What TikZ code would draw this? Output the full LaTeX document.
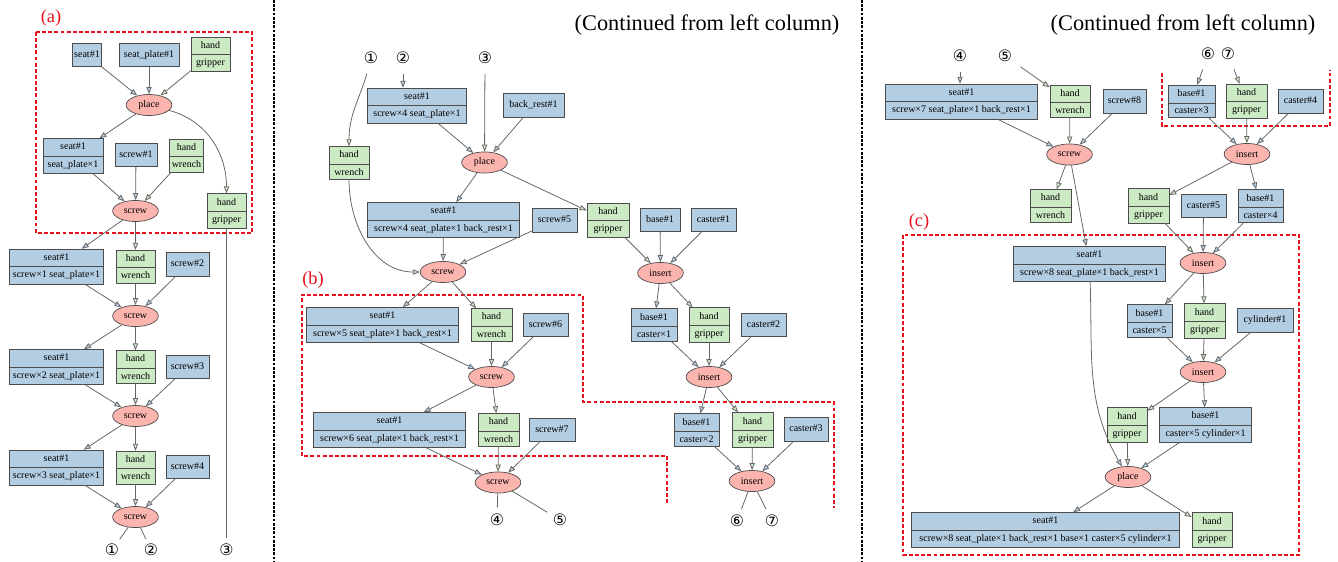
\documentclass[tikz,border=0pt]{standalone}
\usepackage{fontspec}
\setmainfont{Liberation Serif}
\newfontfamily\circfont{DejaVu Sans}
\usetikzlibrary{shapes.multipart,shapes.geometric,arrows.meta}

\definecolor{bluef}{HTML}{B3CDE3}
\definecolor{greenf}{HTML}{CCEBC5}
\definecolor{redf}{HTML}{FBB4AE}
\definecolor{zonered}{HTML}{E8101A}
\newcommand{\boxfont}{\fontsize{5.7}{6.5}\selectfont}

\tikzset{
  part/.style={draw=black!70, fill=bluef, font=\boxfont, inner xsep=1pt,
    text height=4.1pt, text depth=1.3pt},
  obj/.style={part, inner ysep=4pt},
  rec/.style={part, rectangle split, rectangle split parts=2, inner ysep=2.1pt},
  tool/.style={rec, fill=greenf},
  wd/.style={minimum width=#1*0.567pt},
  act/.style={ellipse, draw=black!70, fill=redf, font=\boxfont,
    minimum width=26pt, minimum height=12pt, inner sep=0pt},
  lnk/.style={draw=black!60, line width=0.45pt},
  ab/.style={lnk, -{Triangle[length=4pt, width=3pt, fill=bluef]}},
  ag/.style={lnk, -{Triangle[length=4pt, width=3pt, fill=greenf]}},
  num/.style={font=\circfont\fontsize{9}{9}\selectfont, inner sep=0.5pt},
  zone/.style={draw=zonered, line width=0.7pt, dash pattern=on 2.2pt off 1.3pt},
  tag/.style={text=zonered, font=\fontsize{10.5}{11}\selectfont, inner sep=0pt},
  sep/.style={draw=black, line width=0.6pt, dash pattern=on 1.6pt off 0.8pt},
}

\begin{document}
\begin{tikzpicture}[x=0.02cm, y=0.02cm]
  \useasboundingbox (0,0) rectangle (1338,-561);

  % column dividers and titles
  \draw[sep] (274,0) -- (274,-561);
  \draw[sep] (862,0) -- (862,-561);
  \node[font=\fontsize{12.7}{14}\selectfont] (title1) at (707,-25) {(Continued from left column)};
  \node[font=\fontsize{12.7}{14}\selectfont] (title2) at (1183,-25) {(Continued from left column)};

  % ---------- left column ----------
  \node[tag] (tag-a) at (51,-18) {(a)};
  \draw[zone] (36,-32) rectangle (252,-233);

  \node[obj, wd=28] (a-seat) at (87,-55) {seat\#1};
  \node[obj, wd=60] (a-plate) at (149,-55) {seat\_plate\#1};
  \node[tool, wd=39] (a-grip) at (210.5,-54.5) {hand\nodepart{two}gripper};
  \node[act] (a-place) at (149,-105) {place};
  \node[rec, wd=60] (a-s0) at (73,-156) {seat\#1\nodepart{two}seat\_plate×1};
  \node[obj, wd=42] (a-bolt1) at (136,-155) {screw\#1};
  \node[tool, wd=34] (a-wr1) at (186.5,-155.5) {hand\nodepart{two}wrench};
  \node[act] (a-sc1) at (135.5,-211) {screw};
  \node[tool, wd=39] (a-grip2) at (226.5,-211) {hand\nodepart{two}gripper};

  \node[rec, wd=95] (a-s1) at (56.5,-266.5) {seat\#1\nodepart{two}screw×1 seat\_plate×1};
  \node[tool, wd=39] (a-wr2) at (135.5,-266.5) {hand\nodepart{two}wrench};
  \node[obj, wd=43] (a-bolt2) at (187.5,-264.5) {screw\#2};
  \node[act] (a-sc2) at (135.5,-316) {screw};
  \node[rec, wd=95] (a-s2) at (56.5,-367) {seat\#1\nodepart{two}screw×2 seat\_plate×1};
  \node[tool, wd=39] (a-wr3) at (135.5,-367) {hand\nodepart{two}wrench};
  \node[obj, wd=43] (a-bolt3) at (187.5,-367) {screw\#3};
  \node[act] (a-sc3) at (135.5,-416) {screw};
  \node[rec, wd=95] (a-s3) at (56.5,-467.5) {seat\#1\nodepart{two}screw×3 seat\_plate×1};
  \node[tool, wd=39] (a-wr4) at (135.5,-467.5) {hand\nodepart{two}wrench};
  \node[obj, wd=43] (a-bolt4) at (187.5,-467) {screw\#4};
  \node[act] (a-sc4) at (135.5,-517) {screw};

  \node[num] (a-n1) at (112,-550) {①};
  \node[num] (a-n2) at (151,-550) {②};
  \node[num] (a-n3) at (226.5,-550) {③};

  \draw[ab] (a-seat) -- (a-place);
  \draw[ab] (a-plate) -- (a-place);
  \draw[ag] (a-grip) -- (a-place);
  \draw[ab] (a-place) -- (a-s0);
  \draw[ag] (a-place) to[out=-15, in=90] (a-grip2);
  \draw[ab] (a-s0) -- (a-sc1);
  \draw[ab] (a-bolt1) -- (a-sc1);
  \draw[ag] (a-wr1) -- (a-sc1);
  \draw[ab] (a-sc1) -- (a-s1);
  \draw[ag] (a-sc1) -- (a-wr2);
  \draw[ab] (a-s1) -- (a-sc2);
  \draw[ag] (a-wr2) -- (a-sc2);
  \draw[ab] (a-bolt2) -- (a-sc2);
  \draw[ab] (a-sc2) -- (a-s2);
  \draw[ag] (a-sc2) -- (a-wr3);
  \draw[ab] (a-s2) -- (a-sc3);
  \draw[ag] (a-wr3) -- (a-sc3);
  \draw[ab] (a-bolt3) -- (a-sc3);
  \draw[ab] (a-sc3) -- (a-s3);
  \draw[ag] (a-sc3) -- (a-wr4);
  \draw[ab] (a-s3) -- (a-sc4);
  \draw[ag] (a-wr4) -- (a-sc4);
  \draw[ab] (a-bolt4) -- (a-sc4);
  \draw[lnk, shorten >=2.5pt] (a-sc4) -- (a-n1);
  \draw[lnk, shorten >=2.5pt] (a-sc4) -- (a-n2);
  \draw[lnk, shorten >=3pt] (a-grip2) -- (a-n3);

  % ---------- middle column ----------
  \node[num] (m-n1) at (371,-58) {①};
  \node[num] (m-n2) at (403,-58) {②};
  \node[num] (m-n3) at (485,-58) {③};

  \node[rec, wd=100] (m-seat) at (417,-105.5) {seat\#1\nodepart{two}screw×4 seat\_plate×1};
  \node[obj, wd=61] (m-back) at (533.5,-105.5) {back\_rest\#1};
  \node[tool, wd=40] (m-wr) at (349,-163) {hand\nodepart{two}wrench};
  \node[act] (m-place) at (484.5,-162.5) {place};
  \node[rec, wd=153] (m-seat2) at (443.5,-220) {seat\#1\nodepart{two}screw×4 seat\_plate×1 back\_rest×1};
  \node[obj, wd=45] (m-bolt5) at (554.5,-220.5) {screw\#5};
  \node[tool, wd=42] (m-grip) at (608,-220.5) {hand\nodepart{two}gripper};
  \node[obj, wd=40] (m-base) at (660,-220) {base\#1};
  \node[obj, wd=45] (m-caster1) at (713.5,-220) {caster\#1};
  \node[act] (m-sc1) at (443,-272) {screw};
  \node[act] (m-in1) at (660.5,-273) {insert};

  \node[tag] (tag-b) at (313,-280) {(b)};
  \draw[zone] (667,-503) -- (667,-456) -- (302,-456) -- (302,-295) -- (583,-295)
    -- (583,-402) -- (834,-402) -- (834,-508);

  \node[rec, wd=153] (m-seat5) at (382.5,-325) {seat\#1\nodepart{two}screw×5 seat\_plate×1 back\_rest×1};
  \node[tool, wd=41] (m-wr5) at (491.5,-325) {hand\nodepart{two}wrench};
  \node[obj, wd=45] (m-bolt6) at (545.5,-325) {screw\#6};
  \node[act] (m-sc2) at (491.5,-377) {screw};
  \node[rec, wd=153] (m-seat6) at (389.5,-430) {seat\#1\nodepart{two}screw×6 seat\_plate×1 back\_rest×1};
  \node[tool, wd=41] (m-wr6) at (498.5,-430) {hand\nodepart{two}wrench};
  \node[obj, wd=46] (m-bolt7) at (552,-430) {screw\#7};
  \node[act] (m-sc3) at (498,-482.5) {screw};
  \node[num] (m-n4) at (497,-520) {④};
  \node[num] (m-n5) at (560,-520) {⑤};

  \node[rec, wd=46] (m-b1) at (654,-325) {base\#1\nodepart{two}caster×1};
  \node[tool, wd=40] (m-grip1) at (709,-325) {hand\nodepart{two}gripper};
  \node[obj, wd=45] (m-caster2) at (763.5,-325) {caster\#2};
  \node[act] (m-in2) at (709,-377) {insert};
  \node[rec, wd=45] (m-b2) at (696.5,-430) {base\#1\nodepart{two}caster×2};
  \node[tool, wd=41] (m-grip2) at (752.5,-430) {hand\nodepart{two}gripper};
  \node[obj, wd=44] (m-caster3) at (806,-429.5) {caster\#3};
  \node[act] (m-in3) at (752,-481) {insert};
  \node[num] (m-n6) at (737,-521) {⑥};
  \node[num] (m-n7) at (772,-521) {⑦};

  \draw[ag, shorten <=5pt] (m-n1) to[out=-105, in=90] (m-wr);
  \draw[ab, shorten <=5pt] (m-n2) -- (m-n2 |- m-seat.north);
  \draw[ag, shorten <=5pt] (m-n3) -- (m-place);
  \draw[ab] (m-seat) -- (m-place);
  \draw[ab] (m-back) -- (m-place);
  \draw[ab] (m-place) -- (m-seat2);
  \draw[ag] (m-place) -- (m-grip);
  \draw[ab] (m-seat2) -- (m-sc1);
  \draw[ab] (m-bolt5) -- (m-sc1);
  \draw[ag] (m-wr) to[out=-90, in=180] (m-sc1);
  \draw[ab] (m-sc1) -- (m-seat5);
  \draw[ag] (m-sc1) -- (m-wr5);
  \draw[ab] (m-seat5) -- (m-sc2);
  \draw[ag] (m-wr5) -- (m-sc2);
  \draw[ab] (m-bolt6) -- (m-sc2);
  \draw[ab] (m-sc2) -- (m-seat6);
  \draw[ag] (m-sc2) -- (m-wr6);
  \draw[ab] (m-seat6) -- (m-sc3);
  \draw[ag] (m-wr6) -- (m-sc3);
  \draw[ab] (m-bolt7) -- (m-sc3);
  \draw[lnk, shorten >=3pt] (m-sc3) -- (m-n4);
  \draw[lnk, shorten >=3pt] (m-sc3) -- (m-n5);

  \draw[ag] (m-grip) -- (m-in1);
  \draw[ab] (m-base) -- (m-in1);
  \draw[ab] (m-caster1) -- (m-in1);
  \draw[ab] (m-in1) -- (m-b1);
  \draw[ag] (m-in1) -- (m-grip1);
  \draw[ab] (m-b1) -- (m-in2);
  \draw[ag] (m-grip1) -- (m-in2);
  \draw[ab] (m-caster2) -- (m-in2);
  \draw[ab] (m-in2) -- (m-b2);
  \draw[ag] (m-in2) -- (m-grip2);
  \draw[ab] (m-b2) -- (m-in3);
  \draw[ag] (m-grip2) -- (m-in3);
  \draw[ab] (m-caster3) -- (m-in3);
  \draw[lnk, shorten >=3pt] (m-in3) -- (m-n6);
  \draw[lnk, shorten >=3pt] (m-in3) -- (m-n7);

  % ---------- right column ----------
  \node[num] (r-n4) at (960,-56) {④};
  \node[num] (r-n5) at (1005,-56) {⑤};
  \node[num] (r-n6) at (1208,-54) {⑥};
  \node[num] (r-n7) at (1228,-54) {⑦};

  \node[rec, wd=153] (r-seat7) at (961.5,-101.5) {seat\#1\nodepart{two}screw×7 seat\_plate×1 back\_rest×1};
  \node[tool, wd=40] (r-wr) at (1070,-101.5) {hand\nodepart{two}wrench};
  \node[obj, wd=43] (r-bolt8) at (1124.5,-101.5) {screw\#8};
  \node[act] (r-sc) at (1069.5,-154.5) {screw};
  \node[tool, wd=41] (r-wr2) at (1050.5,-206) {hand\nodepart{two}wrench};

  \draw[zone] (1162,-73) -- (1162,-126) -- (1330,-126) -- (1330,-70);
  \node[rec, wd=47] (r-b3) at (1191.5,-101.5) {base\#1\nodepart{two}caster×3};
  \node[tool, wd=41] (r-grip) at (1246.5,-101.5) {hand\nodepart{two}gripper};
  \node[obj, wd=45] (r-caster4) at (1300.5,-101.5) {caster\#4};
  \node[act] (r-in1) at (1247,-154) {insert};
  \node[tool, wd=41] (r-grip2) at (1148.5,-206) {hand\nodepart{two}gripper};
  \node[obj, wd=45] (r-caster5) at (1203.5,-206) {caster\#5};
  \node[rec, wd=45] (r-b4) at (1260.5,-206) {base\#1\nodepart{two}caster×4};

  \node[tag] (tag-c) at (919,-222) {(c)};
  \draw[zone] (903,-235) rectangle (1299,-555);

  \node[rec, wd=153] (r-seat8) at (1089.5,-264) {seat\#1\nodepart{two}screw×8 seat\_plate×1 back\_rest×1};
  \node[act] (r-in2) at (1203,-263) {insert};
  \node[rec, wd=45] (r-b5) at (1149.5,-321) {base\#1\nodepart{two}caster×5};
  \node[tool, wd=41] (r-grip3) at (1204.5,-321) {hand\nodepart{two}gripper};
  \node[obj, wd=56] (r-cyl) at (1265,-320.5) {cylinder\#1};
  \node[act] (r-in3) at (1203,-372) {insert};
  \node[tool, wd=40] (r-grip4) at (1127,-425) {hand\nodepart{two}gripper};
  \node[rec, wd=93] (r-bc) at (1205.5,-425) {base\#1\nodepart{two}caster×5 cylinder×1};
  \node[act] (r-place) at (1128,-477) {place};
  \node[rec, wd=269] (r-final) at (1045.5,-530) {seat\#1\nodepart{two}screw×8 seat\_plate×1 back\_rest×1 base×1 caster×5 cylinder×1};
  \node[tool, wd=40] (r-grip5) at (1212,-530) {hand\nodepart{two}gripper};

  \draw[ab, shorten <=5pt] (r-n4) -- (r-n4 |- r-seat7.north);
  \draw[ag, shorten <=5pt] (r-n5) -- (r-wr);
  \draw[ab] (r-seat7) -- (r-sc);
  \draw[ag] (r-wr) -- (r-sc);
  \draw[ab] (r-bolt8) -- (r-sc);
  \draw[ag] (r-sc) -- (r-wr2);
  \draw[ab] (r-sc) -- (r-seat8);
  \draw[ab, shorten <=5pt] (r-n6) -- (r-b3);
  \draw[ag, shorten <=5pt] (r-n7) -- (r-grip);
  \draw[ab] (r-b3) -- (r-in1);
  \draw[ag] (r-grip) -- (r-in1);
  \draw[ab] (r-caster4) -- (r-in1);
  \draw[ag] (r-in1) -- (r-grip2);
  \draw[ab] (r-in1) -- (r-b4);
  \draw[ag] (r-grip2) -- (r-in2);
  \draw[ab] (r-caster5) -- (r-in2);
  \draw[ab] (r-b4) -- (r-in2);
  \draw[ab] (r-in2) -- (r-b5);
  \draw[ag] (r-in2) -- (r-grip3);
  \draw[ab] (r-b5) -- (r-in3);
  \draw[ag] (r-grip3) -- (r-in3);
  \draw[ab] (r-cyl) -- (r-in3);
  \draw[ag] (r-in3) -- (r-grip4);
  \draw[ab] (r-in3) -- (r-bc);
  \draw[ab] (r-seat8) to[out=-88, in=120] (r-place);
  \draw[ag] (r-grip4) -- (r-place);
  \draw[ab] (r-bc) -- (r-place);
  \draw[ab] (r-place) -- (r-final);
  \draw[ag] (r-place) -- (r-grip5);
\end{tikzpicture}
\end{document}
